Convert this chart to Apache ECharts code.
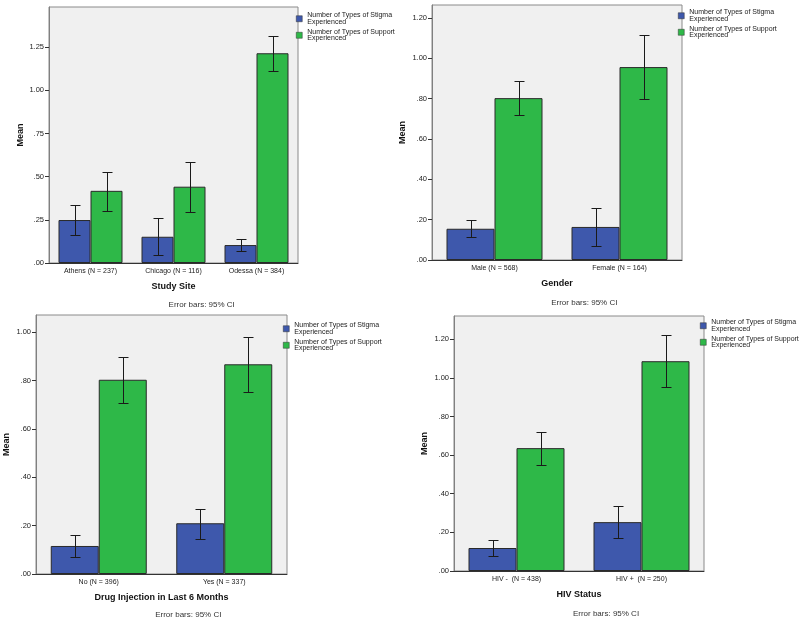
<!DOCTYPE html>
<html><head><meta charset="utf-8">
<script src="https://cdn.jsdelivr.net/npm/echarts@6/dist/echarts.min.js"></script>
<style>html,body{margin:0;padding:0;background:#fff}#c{width:800px;height:624px}</style>
</head><body><div id="c"></div>
<script>
const seriesNames = ['Number of Types of Stigma Experienced', 'Number of Types of Support Experienced'];
const noteText = 'Error bars: 95% CI';

// Panel 1: Study Site
const siteCats = ['Athens (N = 237)', 'Chicago (N = 116)', 'Odessa (N = 384)'];
const siteStigma = [0.249, 0.152, 0.104];
const siteStigmaLo = [0.162, 0.046, 0.071];
const siteStigmaHi = [0.337, 0.258, 0.139];
const siteSupport = [0.418, 0.442, 1.215];
const siteSupportLo = [0.304, 0.297, 1.115];
const siteSupportHi = [0.530, 0.586, 1.315];
const siteTicks = [0, 0.25, 0.5, 0.75, 1.0, 1.25];

// Panel 2: Gender
const genderCats = ['Male (N = 568)', 'Female (N = 164)'];
const genderStigma = [0.155, 0.164];
const genderStigmaLo = [0.114, 0.071];
const genderStigmaHi = [0.197, 0.256];
const genderSupport = [0.803, 0.957];
const genderSupportLo = [0.721, 0.798];
const genderSupportHi = [0.888, 1.116];
const genderTicks = [0, 0.2, 0.4, 0.6, 0.8, 1.0, 1.2];

// Panel 3: Drug Injection in Last 6 Months
const drugCats = ['No (N = 396)', 'Yes (N = 337)'];
const drugStigma = [0.116, 0.210];
const drugStigmaLo = [0.072, 0.146];
const drugStigmaHi = [0.160, 0.270];
const drugSupport = [0.804, 0.868];
const drugSupportLo = [0.709, 0.754];
const drugSupportHi = [0.900, 0.982];
const drugTicks = [0, 0.2, 0.4, 0.6, 0.8, 1.0];

// Panel 4: HIV Status
const hivCats = ['HIV -  (N = 438)', 'HIV +  (N = 250)'];
const hivStigma = [0.119, 0.253];
const hivStigmaLo = [0.079, 0.169];
const hivStigmaHi = [0.162, 0.336];
const hivSupport = [0.636, 1.086];
const hivSupportLo = [0.548, 0.952];
const hivSupportHi = [0.722, 1.221];
const hivTicks = [0, 0.2, 0.4, 0.6, 0.8, 1.0, 1.2];

const FONT = 'Liberation Sans, Arial, sans-serif';
const BLUE = '#3E58AC', GREEN = '#2EB848';

const panels = [
  {title: 'Study Site', cats: siteCats, s: [siteStigma, siteSupport], lo: [siteStigmaLo, siteSupportLo], hi: [siteStigmaHi, siteSupportHi], ticks: siteTicks, max: 1.483,
   grid: {left: 49, top: 7, width: 249, height: 256}, bw: 32, legend: {left: 296, top: 12}, note: [201.7, 305], yGap: 24},
  {title: 'Gender', cats: genderCats, s: [genderStigma, genderSupport], lo: [genderStigmaLo, genderSupportLo], hi: [genderStigmaHi, genderSupportHi], ticks: genderTicks, max: 1.265,
   grid: {left: 432, top: 5, width: 250, height: 255}, bw: 48, legend: {left: 678, top: 9}, note: [584.3, 302.7], yGap: 25},
  {title: 'Drug Injection in Last 6 Months', cats: drugCats, s: [drugStigma, drugSupport], lo: [drugStigmaLo, drugSupportLo], hi: [drugStigmaHi, drugSupportHi], ticks: drugTicks, max: 1.072,
   grid: {left: 36, top: 315, width: 251, height: 259}, bw: 48, legend: {left: 283, top: 322}, note: [188.3, 615], yGap: 25},
  {title: 'HIV Status', cats: hivCats, s: [hivStigma, hivSupport], lo: [hivStigmaLo, hivSupportLo], hi: [hivStigmaHi, hivSupportHi], ticks: hivTicks, max: 1.32,
   grid: {left: 454, top: 316, width: 250, height: 255}, bw: 48, legend: {left: 700, top: 319}, note: [606, 613.3], yGap: 25}
];

function errRender(sign, bw) {
  return function (params, api) {
    const c = api.value(0), lo = api.value(1), hi = api.value(2);
    const pLo = api.coord([c, lo]), pHi = api.coord([c, hi]);
    const x = Math.round(pLo[0] + sign * bw / 2) + 0.5;
    const yLo = Math.round(pLo[1]) + 0.5, yHi = Math.round(pHi[1]) + 0.5;
    const w = 5;
    const st = {stroke: '#1a1a1a', lineWidth: 1};
    return {type: 'group', children: [
      {type: 'line', shape: {x1: x, y1: yHi, x2: x, y2: yLo}, style: st},
      {type: 'line', shape: {x1: x - w, y1: yHi, x2: x + w, y2: yHi}, style: st},
      {type: 'line', shape: {x1: x - w, y1: yLo, x2: x + w, y2: yLo}, style: st}
    ]};
  };
}

const fmt = v => v.toFixed(2).replace(/^0\./, '.');

const option = {
  animation: false,
  backgroundColor: '#ffffff',
  textStyle: {fontFamily: FONT},
  grid: [], xAxis: [], yAxis: [], series: [], legend: [], graphic: []
};

panels.forEach((p, i) => {
  option.grid.push(Object.assign({show: true, backgroundColor: '#F0F0F0', borderColor: '#8a8a8a', borderWidth: 1}, p.grid));
  option.xAxis.push({
    type: 'category', gridIndex: i, data: p.cats,
    name: p.title, nameLocation: 'middle', nameGap: 19,
    nameTextStyle: {fontSize: 9, fontWeight: 'bold', color: '#111', fontFamily: FONT},
    axisLine: {lineStyle: {color: '#333', width: 1}},
    axisTick: {alignWithLabel: true, length: 4, lineStyle: {color: '#333'}},
    axisLabel: {fontSize: 7, color: '#222', margin: 5, fontFamily: FONT}
  });
  option.yAxis.push({
    type: 'value', gridIndex: i, min: 0, max: p.max,
    name: 'Mean', nameLocation: 'middle', nameGap: p.yGap, nameRotate: 90,
    nameTextStyle: {fontSize: 9, fontWeight: 'bold', color: '#111', fontFamily: FONT},
    axisLine: {show: true, lineStyle: {color: '#808080', width: 1}},
    axisTick: {show: true, length: 4, customValues: p.ticks, lineStyle: {color: '#333'}},
    axisLabel: {fontSize: 7.5, color: '#222', margin: 5, customValues: p.ticks, formatter: fmt, fontFamily: FONT},
    splitLine: {show: false}
  });
  [0, 1].forEach(k => {
    option.series.push({
      type: 'bar', name: seriesNames[k], xAxisIndex: i, yAxisIndex: i,
      data: p.s[k], barWidth: p.bw, barGap: '0%',
      itemStyle: {color: k === 0 ? BLUE : GREEN, borderColor: '#2a2a2a', borderWidth: 1},
      z: 2
    });
  });
  [0, 1].forEach(k => {
    option.series.push({
      type: 'custom', name: seriesNames[k] + ' CI', xAxisIndex: i, yAxisIndex: i,
      renderItem: errRender(k === 0 ? -1 : 1, p.bw),
      data: p.cats.map((c, j) => [j, p.lo[k][j], p.hi[k][j]]),
      encode: {x: 0, y: [1, 2]}, z: 5, silent: true
    });
  });
  option.legend.push({
    left: p.legend.left, top: p.legend.top, orient: 'vertical',
    data: seriesNames, selectedMode: false,
    icon: 'rect', itemWidth: 6, itemHeight: 6, itemGap: 3, padding: 0,
    itemStyle: {borderColor: '#333', borderWidth: 0.5},
    formatter: n => n.replace(' Experienced', '\nExperienced'),
    textStyle: {fontSize: 7, lineHeight: 6.5, color: '#222', fontFamily: FONT}
  });
  option.graphic.push({
    type: 'text', x: p.note[0], y: p.note[1],
    style: {text: noteText, font: '8px ' + FONT, fill: '#333',
      align: 'center', verticalAlign: 'middle', textAlign: 'center', textVerticalAlign: 'middle'}
  });
});

const chart = echarts.init(document.getElementById('c'), null, {renderer: 'canvas'});
chart.setOption(option);
</script>
</body></html>
